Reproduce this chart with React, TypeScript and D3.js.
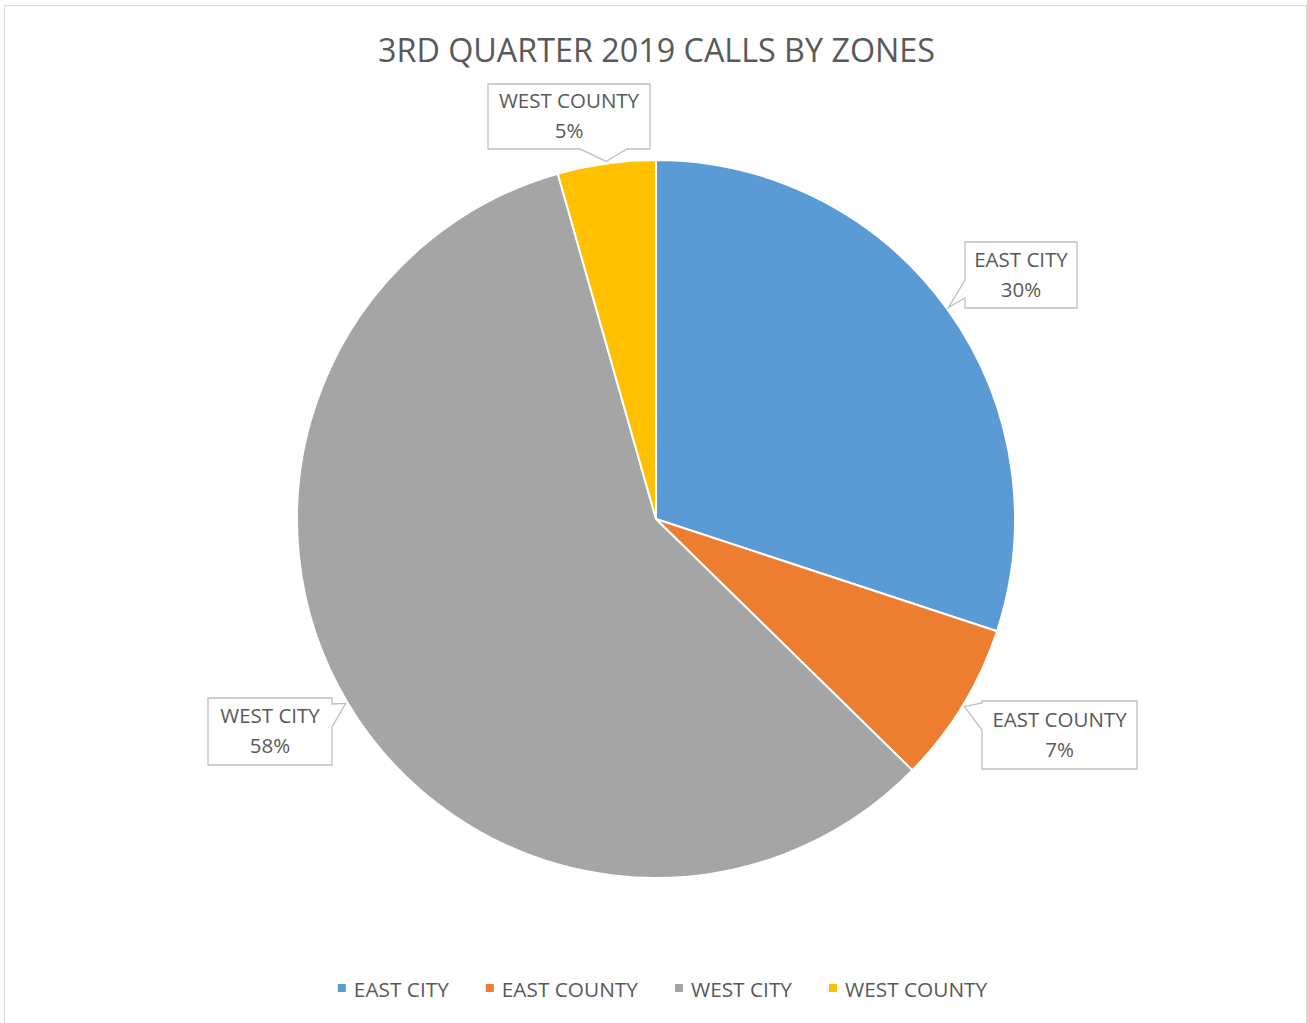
import React, { useEffect, useRef } from "react";
import * as d3 from "d3";

const categories = ["EAST CITY", "EAST COUNTY", "WEST CITY", "WEST COUNTY"];
const values = [30.06, 7.28, 58.25, 4.41];
const percentLabels = ["30%", "7%", "58%", "5%"];
const colors = ["#5B9BD5", "#ED7D31", "#A5A5A5", "#FFC000"];
const titleText = "3RD QUARTER 2019 CALLS BY ZONES";

// callout box layout (x, y, w, h, side where wedge attaches, wedge base offsets along side)
const calloutBoxes = [
  { x: 965, y: 242, w: 112, h: 66, side: "left", a: 38, b: 56 },
  { x: 982, y: 701, w: 155, h: 68, side: "left", a: 2, b: 29 },
  { x: 208, y: 698, w: 124, h: 67, side: "right", a: 6, b: 29 },
  { x: 488, y: 84, w: 162, h: 65, side: "bottom", a: 92, b: 139 },
];

const W = 1307;
const H = 1023;
const FONT = "'Open Sans', 'Liberation Sans', sans-serif";
const TEXT = "#595959";

export default function App() {
  const ref = useRef<SVGSVGElement>(null);
  useEffect(() => {
    const svg = d3.select(ref.current);
    svg.selectAll("*").remove();

    svg.append("rect").attr("x", 0).attr("y", 0).attr("width", W).attr("height", H).attr("fill", "#fff");
    svg.append("rect").attr("x", 4.5).attr("y", 5.5).attr("width", 1302).attr("height", 1030)
      .attr("fill", "none").attr("stroke", "#d9d9d9").attr("stroke-width", 1);

    svg.append("text").attr("x", 656.5).attr("y", 62).attr("text-anchor", "middle")
      .attr("font-family", FONT).attr("font-size", 32.3).attr("fill", TEXT).text(titleText);

    const cx = 656, cy = 519, r = 359;
    const data = categories.map((c, i) => ({ c, v: values[i], i }));
    const pie = d3.pie<any>().value((d) => d.v).sort(null);
    const arcs = pie(data);
    const arc = d3.arc<any>().innerRadius(0).outerRadius(r);
    const g = svg.append("g").attr("transform", `translate(${cx},${cy})`);
    g.selectAll("path").data(arcs).join("path")
      .attr("d", arc as any).attr("fill", (d: any) => colors[d.index])
      .attr("stroke", "#fff").attr("stroke-width", 2).attr("stroke-linejoin", "round");

    // callouts
    arcs.forEach((a: any, i: number) => {
      const mid = (a.startAngle + a.endAngle) / 2;
      const tx = cx + (r + 2) * Math.sin(mid);
      const ty = cy - (r + 2) * Math.cos(mid);
      const b = calloutBoxes[i];
      const x0 = b.x, y0 = b.y, x1 = b.x + b.w, y1 = b.y + b.h;
      let p = "";
      if (b.side === "left") {
        p = `M${x0},${y0} L${x1},${y0} L${x1},${y1} L${x0},${y1} L${x0},${y0 + b.b} L${tx},${ty} L${x0},${y0 + b.a} Z`;
      } else if (b.side === "right") {
        p = `M${x0},${y0} L${x1},${y0} L${x1},${y0 + b.a} L${tx},${ty} L${x1},${y0 + b.b} L${x1},${y1} L${x0},${y1} Z`;
      } else {
        p = `M${x0},${y0} L${x1},${y0} L${x1},${y1} L${x0 + b.b},${y1} L${tx},${ty} L${x0 + b.a},${y1} L${x0},${y1} Z`;
      }
      svg.append("path").attr("d", p).attr("fill", "#fff").attr("stroke", "#bfbfbf").attr("stroke-width", 1.3);
      const mx = (x0 + x1) / 2;
      const my = (y0 + y1) / 2;
      svg.append("text").attr("x", mx).attr("y", my - 8.5).attr("text-anchor", "middle")
        .attr("font-family", FONT).attr("font-size", 20.5).attr("fill", TEXT).text(categories[i]);
      svg.append("text").attr("x", mx).attr("y", my + 21.5).attr("text-anchor", "middle")
        .attr("font-family", FONT).attr("font-size", 20.5).attr("fill", TEXT).text(percentLabels[i]);
    });

    // legend
    const lg = svg.append("g");
    const items = categories.map((c, i) => {
      const it = lg.append("g");
      it.append("rect").attr("x", 0).attr("y", -13).attr("width", 8).attr("height", 8).attr("fill", colors[i]);
      const t = it.append("text").attr("x", 16).attr("y", 0).attr("font-family", FONT)
        .attr("font-size", 20.8).attr("fill", TEXT).text(c);
      const w = (t.node() as SVGTextElement).getComputedTextLength();
      return { it, w: 16 + w };
    });
    const gap = 37;
    const total = items.reduce((s, d) => s + d.w, 0) + gap * (items.length - 1);
    let x = 662.5 - total / 2;
    items.forEach((d) => {
      d.it.attr("transform", `translate(${x},997)`);
      x += d.w + gap;
    });
  }, []);
  return (
    <svg ref={ref} width={W} height={H} style={{ position: "absolute", left: 0, top: 0, display: "block" }} />
  );
}
